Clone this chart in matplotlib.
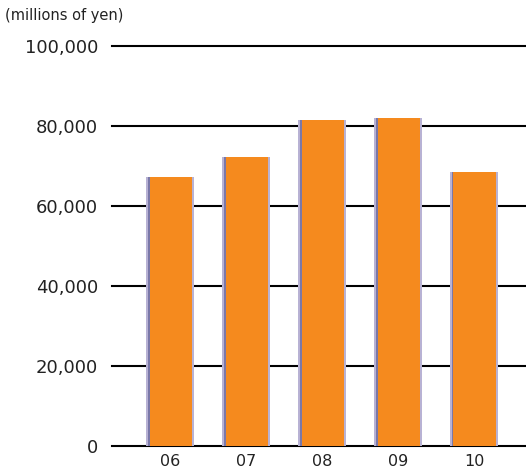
import numpy as np
import matplotlib.pyplot as plt

# Data
years = ['06', '07', '08', '09', '10']
sales = [67200, 72200, 81500, 82000, 68500]
y_ticks = [0, 20000, 40000, 60000, 80000, 100000]

fig = plt.figure(figsize=(5.26, 4.73), dpi=100)
ax = fig.add_axes([0.213, 0.057, 0.787, 0.846])

x = np.arange(len(years))
w = 0.58

# gridlines
for t in y_ticks:
    ax.axhline(t, color='black', linewidth=1.5, zorder=1, clip_on=False)

# bar shadow / edge, then bar
ax.bar(x - 0.01, sales, width=w + 0.05, color='#b8b2d4', zorder=2)
ax.bar(x - w / 2 + 0.005, sales, width=0.03, color='#7a78a8', zorder=3)
ax.bar(x + 0.005, sales, width=w - 0.02, color='#f58a1e', zorder=4)

ax.set_xlim(-0.77, 4.68)
ax.set_ylim(0, 100000)
ax.set_yticks(y_ticks)
ax.set_yticklabels([f'{t:,}' for t in y_ticks])
ax.set_xticks(x)
ax.set_xticklabels(years)
ax.tick_params(axis='y', length=0, pad=10, labelsize=13, colors='#222222')
ax.tick_params(axis='x', length=0, pad=6, labelsize=11.5, colors='#222222')
for s in ax.spines.values():
    s.set_visible(False)

fig.text(0.01, 0.967, '(millions of yen)', fontsize=10.5, ha='left', va='center', color='#222222')

fig.savefig('out.png', dpi=100)
